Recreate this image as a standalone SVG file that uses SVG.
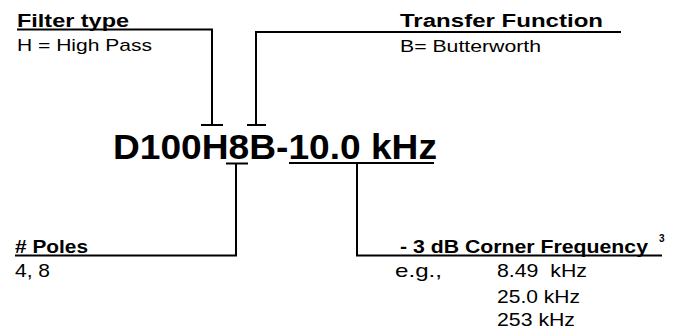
<svg xmlns="http://www.w3.org/2000/svg" width="677" height="331" viewBox="0 0 677 331">
<style>
text{font-family:"Liberation Sans",Arial,sans-serif;fill:#000}
.h{font-weight:bold;font-size:18px}
.r{font-size:17px}
.m{font-weight:bold;font-size:35px}
.s{font-size:19px}
.c line,.c polyline{stroke:#000;stroke-width:2;fill:none}
</style>
<rect width="677" height="331" fill="#fff"/>
<g id="filter-type">
<text class="h" x="17" y="26.5" textLength="112" lengthAdjust="spacingAndGlyphs">Filter type</text>
<text class="r" x="17" y="51" textLength="135" lengthAdjust="spacingAndGlyphs">H = High Pass</text>
</g>
<g id="transfer-function">
<text class="h" x="400" y="26.5" textLength="203" lengthAdjust="spacingAndGlyphs">Transfer Function</text>
<text class="r" x="400" y="51.5" textLength="141" lengthAdjust="spacingAndGlyphs">B= Butterworth</text>
</g>
<g id="model-code">
<text class="m" x="113" y="158.5" textLength="324" lengthAdjust="spacingAndGlyphs">D100H8B-10.0 kHz</text>
</g>
<g id="poles">
<text class="h" x="15" y="253" textLength="73" lengthAdjust="spacingAndGlyphs"># Poles</text>
<text class="s" x="15" y="277" textLength="35" lengthAdjust="spacingAndGlyphs">4, 8</text>
</g>
<g id="corner-frequency">
<text class="h" x="400" y="253" textLength="248" lengthAdjust="spacingAndGlyphs">- 3 dB Corner Frequency</text>
<text class="h" style="font-size:10px" x="659" y="242">3</text>
<text class="s" x="395" y="277" textLength="47" lengthAdjust="spacingAndGlyphs">e.g.,</text>
<text class="s" x="497" y="277" textLength="90" lengthAdjust="spacingAndGlyphs">8.49&#160; kHz</text>
<text class="s" x="497" y="303" textLength="83" lengthAdjust="spacingAndGlyphs">25.0 kHz</text>
<text class="s" x="497" y="326" textLength="78" lengthAdjust="spacingAndGlyphs">253 kHz</text>
</g>
<g id="connectors" class="c">
<polyline points="17,29.5 212,29.5 212,125"/>
<line x1="201" y1="125" x2="223" y2="125"/>
<polyline points="621,32 256,32 256,125"/>
<line x1="247" y1="125" x2="266" y2="125"/>
<line x1="226" y1="163.5" x2="248" y2="163.5"/>
<polyline points="236,163.5 236,255.5 15,255.5"/>
<line x1="289" y1="163" x2="434" y2="163"/>
<polyline points="357,163 357,255.5 662,255.5"/>
</g>
</svg>
